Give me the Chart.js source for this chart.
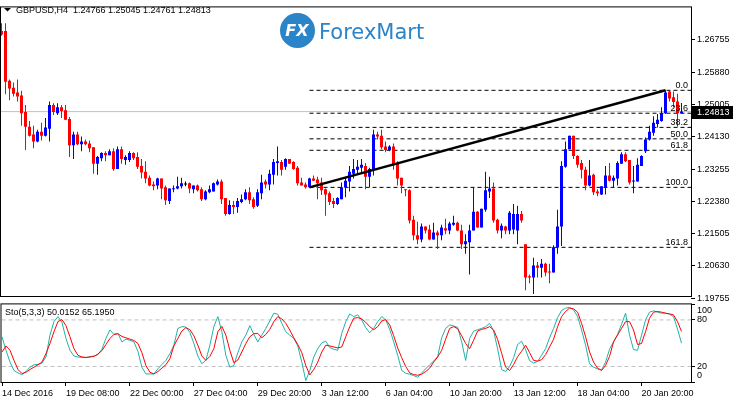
<!DOCTYPE html>
<html>
<head>
<meta charset="utf-8">
<title>GBPUSD H4</title>
<script src="https://cdn.jsdelivr.net/npm/chart.js@4.4.1/dist/chart.umd.min.js"></script>
<style>
  html, body { margin: 0; padding: 0; background: #ffffff; }
  #wrap { position: relative; width: 733px; height: 398px; overflow: hidden; background: #ffffff; }
  #priceChart { position: absolute; left: 0; top: 0; }
  #stochChart { position: absolute; left: 0; top: 297px; }
</style>
</head>
<body>
<div id="wrap">
  <canvas id="priceChart" width="733" height="305"></canvas>
  <canvas id="stochChart" width="733" height="101"></canvas>
</div>
<script>
// GBPUSD H4 candles, one entry per bar (oldest first)
const symbol = 'GBPUSD,H4';

const open = [
  1.2700, 1.2700, 1.2565, 1.2546, 1.2533, 1.2525, 1.2480, 1.2440, 1.2419, 1.2400,
  1.2427, 1.2416, 1.2435, 1.2499, 1.2477, 1.2493, 1.2485, 1.2461, 1.2390, 1.2419,
  1.2393, 1.2400, 1.2395, 1.2385, 1.2340, 1.2355, 1.2369, 1.2363, 1.2374, 1.2326,
  1.2379, 1.2350, 1.2350, 1.2369, 1.2358, 1.2334, 1.2318, 1.2302, 1.2284, 1.2281,
  1.2300, 1.2276, 1.2239, 1.2271, 1.2273, 1.2279, 1.2284, 1.2287, 1.2271, 1.2281,
  1.2271, 1.2244, 1.2263, 1.2265, 1.2284, 1.2292, 1.2247, 1.2204, 1.2228, 1.2223,
  1.2236, 1.2244, 1.2263, 1.2244, 1.2226, 1.2260, 1.2292, 1.2284, 1.2310, 1.2342,
  1.2345, 1.2332, 1.2353, 1.2345, 1.2329, 1.2289, 1.2284, 1.2276, 1.2300, 1.2297,
  1.2289, 1.2271, 1.2260, 1.2239, 1.2231, 1.2244, 1.2276, 1.2292, 1.2313, 1.2324,
  1.2329, 1.2334, 1.2305, 1.2324, 1.2419, 1.2416, 1.2387, 1.2377, 1.2387, 1.2340,
  1.2302, 1.2271, 1.2268, 1.2188, 1.2146, 1.2135, 1.2170, 1.2162, 1.2135, 1.2154,
  1.2146, 1.2165, 1.2159, 1.2175, 1.2180, 1.2159, 1.2122, 1.2127, 1.2159, 1.2210,
  1.2167, 1.2215, 1.2265, 1.2273, 1.2188, 1.2159, 1.2170, 1.2159, 1.2162, 1.2159,
  1.2204, 1.2122, 1.2035, 1.2032, 1.2064, 1.2058, 1.2069, 1.2048, 1.2045, 1.2114,
  1.2170, 1.2332, 1.2379, 1.2416, 1.2361, 1.2342, 1.2324, 1.2281, 1.2310, 1.2265,
  1.2257, 1.2276, 1.2308, 1.2294, 1.2300, 1.2340, 1.2366, 1.2350, 1.2292, 1.2292,
  1.2334, 1.2374, 1.2406, 1.2424, 1.2448, 1.2456, 1.2477, 1.2536, 1.2520, 1.2509,
  1.24766
];

const high = [
  1.2721, 1.2721, 1.2568, 1.2560, 1.2568, 1.2538, 1.2499, 1.2456, 1.2443, 1.2432,
  1.2451, 1.2464, 1.2509, 1.2504, 1.2504, 1.2499, 1.2499, 1.2467, 1.2427, 1.2427,
  1.2414, 1.2406, 1.2403, 1.2385, 1.2361, 1.2371, 1.2374, 1.2379, 1.2382, 1.2387,
  1.2387, 1.2363, 1.2374, 1.2371, 1.2371, 1.2353, 1.2347, 1.2308, 1.2292, 1.2302,
  1.2300, 1.2281, 1.2273, 1.2281, 1.2305, 1.2302, 1.2292, 1.2289, 1.2281, 1.2284,
  1.2276, 1.2268, 1.2281, 1.2289, 1.2297, 1.2297, 1.2247, 1.2241, 1.2239, 1.2247,
  1.2257, 1.2271, 1.2276, 1.2249, 1.2271, 1.2310, 1.2297, 1.2324, 1.2353, 1.2387,
  1.2350, 1.2355, 1.2353, 1.2347, 1.2334, 1.2302, 1.2289, 1.2302, 1.2308, 1.2305,
  1.2302, 1.2273, 1.2265, 1.2247, 1.2249, 1.2289, 1.2302, 1.2334, 1.2353, 1.2350,
  1.2353, 1.2342, 1.2329, 1.2432, 1.2427, 1.2432, 1.2400, 1.2390, 1.2395, 1.2347,
  1.2302, 1.2271, 1.2271, 1.2199, 1.2183, 1.2178, 1.2170, 1.2175, 1.2180, 1.2159,
  1.2175, 1.2191, 1.2183, 1.2199, 1.2183, 1.2175, 1.2149, 1.2175, 1.2276, 1.2212,
  1.2218, 1.2318, 1.2305, 1.2289, 1.2191, 1.2178, 1.2172, 1.2212, 1.2231, 1.2226,
  1.2212, 1.2122, 1.2040, 1.2085, 1.2074, 1.2082, 1.2072, 1.2069, 1.2119, 1.2215,
  1.2347, 1.2400, 1.2416, 1.2416, 1.2363, 1.2350, 1.2332, 1.2350, 1.2313, 1.2271,
  1.2279, 1.2334, 1.2342, 1.2308, 1.2347, 1.2371, 1.2371, 1.2350, 1.2334, 1.2355,
  1.2363, 1.2411, 1.2443, 1.2469, 1.2475, 1.2493, 1.2539, 1.2537, 1.2536, 1.2530,
  1.25045
];

const low = [
  1.2687, 1.2528, 1.2512, 1.2522, 1.2509, 1.2443, 1.2377, 1.2414, 1.2382, 1.2398,
  1.2403, 1.2414, 1.2400, 1.2472, 1.2472, 1.2464, 1.2459, 1.2358, 1.2353, 1.2390,
  1.2374, 1.2390, 1.2371, 1.2313, 1.2310, 1.2347, 1.2347, 1.2363, 1.2321, 1.2326,
  1.2340, 1.2337, 1.2345, 1.2350, 1.2326, 1.2300, 1.2287, 1.2279, 1.2268, 1.2271,
  1.2244, 1.2228, 1.2231, 1.2263, 1.2271, 1.2273, 1.2279, 1.2260, 1.2260, 1.2265,
  1.2239, 1.2241, 1.2260, 1.2265, 1.2281, 1.2231, 1.2199, 1.2202, 1.2204, 1.2207,
  1.2233, 1.2241, 1.2231, 1.2218, 1.2223, 1.2244, 1.2273, 1.2268, 1.2284, 1.2308,
  1.2308, 1.2324, 1.2340, 1.2324, 1.2281, 1.2281, 1.2273, 1.2276, 1.2294, 1.2244,
  1.2255, 1.2199, 1.2228, 1.2220, 1.2228, 1.2244, 1.2249, 1.2265, 1.2300, 1.2310,
  1.2316, 1.2271, 1.2276, 1.2308, 1.2406, 1.2379, 1.2371, 1.2374, 1.2324, 1.2281,
  1.2260, 1.2252, 1.2178, 1.2133, 1.2122, 1.2127, 1.2151, 1.2133, 1.2135, 1.2109,
  1.2133, 1.2149, 1.2149, 1.2172, 1.2157, 1.2109, 1.2096, 1.2040, 1.2159, 1.2167,
  1.2167, 1.2210, 1.2247, 1.2180, 1.2151, 1.2138, 1.2149, 1.2149, 1.2149, 1.2122,
  1.2180, 1.1997, 1.2016, 1.1987, 1.2032, 1.2032, 1.2035, 1.2016, 1.2045, 1.2096,
  1.2117, 1.2329, 1.2379, 1.2353, 1.2329, 1.2300, 1.2268, 1.2279, 1.2255, 1.2252,
  1.2255, 1.2257, 1.2292, 1.2276, 1.2281, 1.2340, 1.2345, 1.2284, 1.2260, 1.2292,
  1.2334, 1.2369, 1.2403, 1.2416, 1.2438, 1.2454, 1.2475, 1.2509, 1.2493, 1.2440,
  1.24761
];

const close = [
  1.2690, 1.2562, 1.2544, 1.2530, 1.2522, 1.2477, 1.2440, 1.2416, 1.2400, 1.2427,
  1.2416, 1.2438, 1.2499, 1.2480, 1.2493, 1.2483, 1.2459, 1.2390, 1.2419, 1.2393,
  1.2400, 1.2393, 1.2382, 1.2340, 1.2358, 1.2369, 1.2363, 1.2374, 1.2326, 1.2379,
  1.2353, 1.2358, 1.2369, 1.2355, 1.2332, 1.2316, 1.2300, 1.2281, 1.2279, 1.2300,
  1.2273, 1.2241, 1.2273, 1.2273, 1.2279, 1.2287, 1.2284, 1.2273, 1.2281, 1.2268,
  1.2244, 1.2265, 1.2271, 1.2287, 1.2292, 1.2244, 1.2204, 1.2228, 1.2223, 1.2239,
  1.2244, 1.2263, 1.2241, 1.2223, 1.2263, 1.2289, 1.2284, 1.2313, 1.2345, 1.2347,
  1.2324, 1.2353, 1.2340, 1.2326, 1.2287, 1.2281, 1.2276, 1.2300, 1.2294, 1.2287,
  1.2268, 1.2257, 1.2236, 1.2231, 1.2247, 1.2276, 1.2294, 1.2318, 1.2326, 1.2332,
  1.2337, 1.2305, 1.2326, 1.2419, 1.2414, 1.2385, 1.2377, 1.2387, 1.2337, 1.2300,
  1.2281, 1.2268, 1.2186, 1.2146, 1.2135, 1.2170, 1.2159, 1.2135, 1.2154, 1.2146,
  1.2167, 1.2159, 1.2178, 1.2180, 1.2159, 1.2122, 1.2130, 1.2159, 1.2210, 1.2167,
  1.2218, 1.2268, 1.2273, 1.2186, 1.2159, 1.2172, 1.2159, 1.2207, 1.2204, 1.2204,
  1.2186, 1.2032, 1.2032, 1.2064, 1.2058, 1.2069, 1.2045, 1.2045, 1.2114, 1.2170,
  1.2334, 1.2379, 1.2416, 1.2361, 1.2337, 1.2324, 1.2281, 1.2308, 1.2263, 1.2260,
  1.2279, 1.2308, 1.2294, 1.2302, 1.2342, 1.2366, 1.2347, 1.2289, 1.2294, 1.2337,
  1.2361, 1.2406, 1.2427, 1.2451, 1.2459, 1.2477, 1.2533, 1.2517, 1.2507, 1.24766,
  1.24813
];

// Stochastic(5,3,3): main (%K) and signal (%D) lines
const stochK = [
  58.3, 40.9, 25.7, 14.8, 11.7, 9.6, 13.5, 19.1, 22.2, 22.6,
  24.4, 32.2, 60.4, 77.8, 84.3, 76.9, 56.1, 40.9, 33.5, 32.2,
  31.7, 31.3, 32.6, 33.5, 35.2, 42.2, 56.1, 67.0, 61.3, 62.6,
  51.7, 55.2, 53.9, 51.7, 39.6, 19.1, 10.4, 10.4, 10.4, 17.0,
  22.6, 27.8, 36.5, 47.4, 69.1, 71.3, 70.9, 63.9, 49.6, 33.5,
  23.5, 27.8, 47.4, 71.3, 84.3, 64.8, 34.4, 19.1, 21.3, 37.8,
  51.7, 60.4, 72.6, 61.3, 51.7, 60.4, 69.1, 78.7, 88.7, 87.4,
  75.6, 64.8, 60.4, 56.1, 46.5, 25.7, 1.7, 14.8, 32.2, 43.0,
  50.4, 52.6, 44.4, 42.2, 40.9, 62.6, 77.8, 87.8, 84.3, 86.5,
  80.0, 70.0, 63.5, 69.1, 77.8, 84.3, 80.0, 67.8, 51.7, 34.4,
  14.8, 11.3, 10.0, 8.3, 6.1, 11.7, 17.0, 22.2, 27.0, 33.0,
  57.0, 69.1, 73.5, 72.2, 70.4, 51.7, 27.8, 56.1, 65.7, 67.4,
  69.1, 71.3, 75.6, 65.7, 42.6, 16.1, 13.5, 20.0, 31.3, 48.3,
  52.6, 41.7, 27.4, 24.4, 26.5, 34.4, 43.0, 57.0, 69.1, 83.0,
  92.2, 95.2, 96.1, 93.0, 84.3, 67.0, 47.4, 23.5, 19.1, 17.0,
  15.7, 25.7, 42.2, 51.7, 61.3, 74.3, 88.7, 60.4, 41.7, 40.9,
  60.4, 80.0, 90.0, 91.7, 90.0, 88.7, 88.7, 87.4, 84.3, 68.3,
  50.0152
];

const stochD = [
  38.7, 46.5, 40.9, 27.8, 16.1, 10.9, 12.6, 16.1, 19.1, 22.2,
  25.7, 36.5, 49.6, 64.8, 77.8, 80.4, 72.6, 58.3, 43.0, 34.4,
  32.2, 31.7, 32.2, 33.0, 36.1, 40.4, 48.3, 56.1, 61.3, 62.2,
  58.7, 57.0, 55.2, 53.5, 49.6, 37.8, 21.3, 12.6, 10.4, 13.5,
  17.8, 22.2, 30.0, 46.5, 56.1, 65.7, 70.0, 67.4, 59.6, 47.4,
  33.5, 27.8, 33.0, 43.0, 64.8, 71.7, 60.4, 40.9, 24.8, 28.3,
  38.7, 49.6, 58.3, 62.2, 62.6, 57.0, 61.3, 67.8, 77.8, 84.3,
  81.3, 75.6, 67.0, 57.0, 48.3, 37.8, 21.3, 9.1, 16.1, 25.7,
  38.7, 47.4, 46.5, 45.2, 43.9, 45.2, 58.3, 71.3, 82.2, 83.0,
  81.3, 76.9, 71.3, 67.4, 71.3, 78.7, 80.4, 73.5, 59.6, 43.9,
  31.3, 20.0, 11.7, 9.6, 8.7, 10.0, 13.5, 17.8, 25.7, 32.2,
  40.9, 55.2, 69.1, 71.3, 68.7, 59.6, 49.6, 43.0, 53.9, 65.7,
  67.8, 69.1, 71.3, 67.0, 54.8, 37.0, 19.1, 14.8, 22.6, 32.6,
  39.6, 47.4, 37.8, 27.8, 27.0, 28.7, 35.2, 45.2, 55.2, 71.3,
  84.3, 90.9, 95.2, 94.3, 90.0, 75.6, 58.3, 38.7, 25.7, 17.8,
  14.8, 21.3, 33.0, 51.7, 60.4, 69.1, 77.8, 77.8, 67.0, 48.3,
  49.6, 64.8, 82.2, 90.0, 90.9, 90.0, 88.7, 87.8, 86.5, 77.8,
  65.195
];

// axis ticks
const priceTicks = [1.19755, 1.20630, 1.21505, 1.22380, 1.23255, 1.24130, 1.25005, 1.25880, 1.26755];
const dateTickBars = [0, 16, 32, 48, 64, 80, 96, 112, 128, 144, 160];
const dateLabels = ['14 Dec 2016', '19 Dec 08:00', '22 Dec 00:00', '27 Dec 04:00', '29 Dec 20:00',
  '3 Jan 12:00', '6 Jan 04:00', '10 Jan 20:00', '13 Jan 12:00', '18 Jan 04:00', '20 Jan 20:00'];
const stochTicks = [100, 80, 20, 0];
const stochLevels = [20, 80];

// Fibonacci retracement drawn from the low of bar 77 to the high of bar 166
const fibLevels = [0, 23.6, 38.2, 50.0, 61.8, 100.0, 161.8];
const fibStartBar = 77;
const fibEndBar = 166;

// visible window
const xMin = -0.125, xMax = 172.375;
const priceMin = 1.19816, priceMax = 1.27637;

const chartFont = "'Liberation Sans', Arial, sans-serif";
Chart.defaults.font.family = chartFont;
Chart.defaults.font.size = 9;
Chart.defaults.color = '#000000';

const bullColor = '#0000ff';
const bearColor = '#ff0000';
const dojiColor = '#000000';
const last = close.length - 1;

function candleColor(i) {
    if (close[i] > open[i]) return bullColor;
    if (close[i] < open[i]) return bearColor;
    return dojiColor;
}

const fibLow = low[fibStartBar];
const fibHigh = high[fibEndBar];
const fibPrice = lv => fibHigh - (fibHigh - fibLow) * lv / 100;

// ---------- price window ----------
const fibDatasets = fibLevels.map(lv => ({
    type: 'line',
    data: [{ x: fibStartBar, y: fibPrice(lv) }, { x: xMax, y: fibPrice(lv) }],
    borderColor: '#000000',
    borderWidth: 1,
    borderDash: [4, 3],
    pointRadius: 0,
    order: 4
}));

const priceDecor = {
    id: 'priceDecor',
    beforeDatasetsDraw(chart) {
        const ctx = chart.ctx;
        // ForexMart watermark
        ctx.save();
        ctx.fillStyle = '#2b84c8';
        ctx.beginPath();
        ctx.arc(297.5, 30.5, 17.5, 0, Math.PI * 2);
        ctx.fill();
        ctx.fillStyle = '#ffffff';
        ctx.font = "bold italic 16px 'DejaVu Sans'";
        ctx.textAlign = 'center';
        ctx.textBaseline = 'middle';
        ctx.fillText('FX', 297, 32);
        ctx.fillStyle = '#2b84c8';
        ctx.font = "21px 'DejaVu Sans'";
        ctx.textAlign = 'left';
        ctx.textBaseline = 'alphabetic';
        ctx.fillText('ForexMart', 319, 39);
        ctx.restore();
    },
    afterDraw(chart) {
        const ctx = chart.ctx;
        const area = chart.chartArea;
        const y = chart.scales.y;
        ctx.save();

        // fibo level labels
        ctx.font = '9px ' + chartFont;
        ctx.fillStyle = '#000000';
        ctx.textAlign = 'right';
        ctx.textBaseline = 'alphabetic';
        fibLevels.forEach(lv => {
            ctx.fillText(lv.toFixed(1), area.right - 3, y.getPixelForValue(fibPrice(lv)) - 2);
        });

        // window frame
        ctx.strokeStyle = '#000000';
        ctx.lineWidth = 1;
        ctx.strokeRect(area.left - 0.5, area.top - 0.5, area.right - area.left + 1, area.bottom - area.top + 1);

        // header
        ctx.beginPath();
        ctx.moveTo(4, 8);
        ctx.lineTo(11, 8);
        ctx.lineTo(7.5, 11.5);
        ctx.closePath();
        ctx.fill();
        ctx.textAlign = 'left';
        const ohlc = [open[last], high[last], low[last], close[last]].map(v => v.toFixed(5)).join(' ');
        ctx.fillText(symbol + '  ' + ohlc, 16, 13);

        // last price tag
        const yp = y.getPixelForValue(close[last]);
        ctx.fillStyle = '#000000';
        ctx.fillRect(area.right + 1, Math.round(yp) - 6, 42, 13);
        ctx.fillStyle = '#ffffff';
        ctx.textBaseline = 'middle';
        ctx.fillText(close[last].toFixed(5), 697, Math.round(yp) + 0.5);
        ctx.restore();
    }
};

new Chart(document.getElementById('priceChart').getContext('2d'), {
    type: 'bar',
    data: {
        datasets: [
            {
                type: 'line',
                data: [{ x: xMin, y: close[last] }, { x: xMax, y: close[last] }],
                borderColor: '#c0c0c0',
                borderWidth: 1,
                pointRadius: 0,
                order: 6
            },
            ...fibDatasets,
            {
                // wicks
                data: high.map((h, i) => ({ x: i, y: [low[i], h] })),
                backgroundColor: ctx => candleColor(ctx.dataIndex),
                barThickness: 1,
                grouped: false,
                borderWidth: 0,
                inflateAmount: 0,
                order: 3
            },
            {
                // bodies
                data: open.map((o, i) => ({ x: i, y: [o, close[i]] })),
                backgroundColor: ctx => candleColor(ctx.dataIndex),
                barThickness: 3,
                minBarLength: 1,
                grouped: false,
                borderWidth: 0,
                inflateAmount: 0,
                order: 2
            },
            {
                // trend line
                type: 'line',
                data: [{ x: fibStartBar, y: fibLow }, { x: fibEndBar, y: fibHigh }],
                borderColor: '#000000',
                borderWidth: 2.5,
                pointRadius: 0,
                order: 1
            }
        ]
    },
    options: {
        responsive: false,
        animation: false,
        layout: { padding: { left: 1, top: 1, right: 0, bottom: 9 } },
        plugins: { legend: { display: false }, tooltip: { enabled: false } },
        scales: {
            x: { type: 'linear', min: xMin, max: xMax, offset: false, display: false },
            y: {
                position: 'right',
                min: priceMin,
                max: priceMax,
                afterBuildTicks: s => { s.ticks = priceTicks.map(v => ({ value: v })); },
                afterFit: s => { s.width = 42; },
                grid: { drawOnChartArea: false, tickLength: 4, color: '#000000' },
                border: { display: false },
                ticks: { padding: 2, color: '#000000', callback: v => v.toFixed(5) }
            }
        }
    },
    plugins: [priceDecor]
});

// ---------- stochastic window ----------
const stochDecor = {
    id: 'stochDecor',
    afterDraw(chart) {
        const ctx = chart.ctx;
        const area = chart.chartArea;
        const y = chart.scales.y;
        ctx.save();
        ctx.strokeStyle = '#000000';
        ctx.lineWidth = 1;
        ctx.strokeRect(area.left - 0.5, area.top - 0.5, area.right - area.left + 1, area.bottom - area.top + 1);

        ctx.font = '9px ' + chartFont;
        ctx.fillStyle = '#000000';
        ctx.textAlign = 'left';
        ctx.textBaseline = 'alphabetic';
        ctx.fillText('Sto(5,3,3) ' + stochK[last].toFixed(4) + ' ' + stochD[last].toFixed(4), 5, 18);

        // end labels sit inside the window, as the terminal draws them
        ctx.textBaseline = 'middle';
        ctx.fillText('100', 697, y.getPixelForValue(100) + 6);
        ctx.fillText('0', 697, y.getPixelForValue(0) - 6);
        ctx.restore();
    }
};

new Chart(document.getElementById('stochChart').getContext('2d'), {
    type: 'line',
    data: {
        datasets: [
            ...stochLevels.map(lv => ({
                data: [{ x: xMin, y: lv }, { x: xMax, y: lv }],
                borderColor: '#c0c0c0',
                borderWidth: 1,
                borderDash: [4, 3],
                pointRadius: 0,
                order: 3
            })),
            {
                data: stochK.map((v, i) => ({ x: i, y: v })),
                borderColor: '#20b2aa',
                borderWidth: 1,
                pointRadius: 0,
                order: 2
            },
            {
                data: stochD.map((v, i) => ({ x: i, y: v })),
                borderColor: '#ff0000',
                borderWidth: 1,
                pointRadius: 0,
                order: 1
            }
        ]
    },
    options: {
        responsive: false,
        animation: false,
        layout: { padding: { left: 1, top: 7, right: 0, bottom: 0 } },
        plugins: { legend: { display: false }, tooltip: { enabled: false } },
        scales: {
            x: {
                type: 'linear',
                min: xMin,
                max: xMax,
                offset: false,
                afterBuildTicks: s => { s.ticks = dateTickBars.map(v => ({ value: v })); },
                afterFit: s => { s.height = 16; },
                grid: { drawOnChartArea: false, tickLength: 4, color: '#000000' },
                border: { display: false },
                ticks: {
                    align: 'start',
                    maxRotation: 0,
                    autoSkip: false,
                    padding: 2,
                    color: '#000000',
                    callback: (v, i) => dateLabels[i]
                }
            },
            y: {
                position: 'right',
                min: 0,
                max: 100,
                afterBuildTicks: s => { s.ticks = stochTicks.map(v => ({ value: v })); },
                afterFit: s => { s.width = 42; },
                grid: { drawOnChartArea: false, tickLength: 4, color: '#000000' },
                border: { display: false },
                ticks: {
                    padding: 2,
                    color: '#000000',
                    callback: v => (v === 0 || v === 100) ? '' : String(v)
                }
            }
        }
    },
    plugins: [stochDecor]
});
</script>
</body>
</html>
